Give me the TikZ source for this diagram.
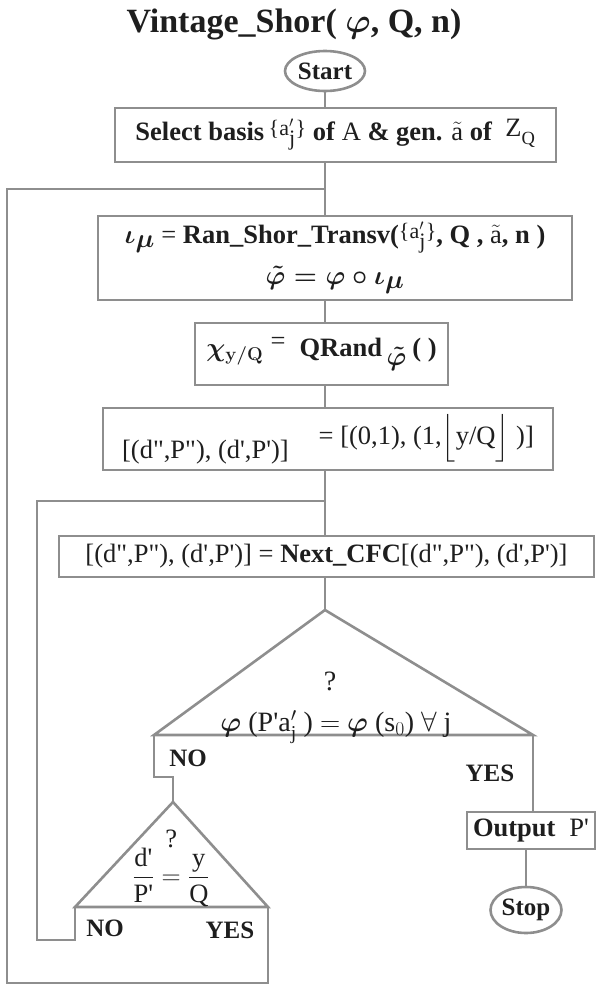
\RequirePackage{fix-cm}
\documentclass[tikz,border=0pt]{standalone}
\usepackage{amsmath,amssymb}
\usepackage{bm}
\usepackage{fontspec}
\setmainfont{Liberation Serif}[Ligatures=TeXOff]
\usetikzlibrary{positioning,shapes.geometric}
\definecolor{lgray}{HTML}{8E8E8E}
\definecolor{ink}{HTML}{1E1E1E}
\newcommand{\aj}{{\fontsize{22}{22}\selectfont\raisebox{5pt}{\{a$'_{\raisebox{-4pt}{$\mathrm{j}$}}$\}}}}

\begin{document}
\begin{tikzpicture}[x=1pt,y=-1pt,line width=2.6pt,line join=miter,
  font=\fontsize{26.5}{31}\selectfont,
  bx/.style={draw=lgray,text=ink,align=center,inner sep=2pt},
  ov/.style={draw=lgray,text=ink,ellipse,inner sep=0pt,font=\fontsize{25}{30}\selectfont\bfseries},
  lbl/.style={text=ink,font=\fontsize{25}{30}\selectfont\bfseries},
  wire/.style={draw=lgray}]
  \useasboundingbox (0,0) rectangle (595,986);
  \coordinate (spine) at (325,0);
  \node[text=ink,font=\fontsize{34}{40}\selectfont\bfseries](title) at (294,24)
    {Vintage\_Shor( {\boldmath$\varphi$}, Q, n)};
  \node[ov,minimum width=80pt,minimum height=40pt](start) at (325,71){Start};
  \node[bx,minimum width=441pt,minimum height=54pt](select) at (335.5,135)
    {\textbf{Select basis}\,\aj\ \textbf{of} A \textbf{\& gen.} $\tilde{\mathrm{a}}$ \textbf{of} \ \raisebox{4pt}{Z}$_{\mathrm{Q}}$};
  \node[bx,minimum width=474pt,minimum height=84pt](transv) at (335,258)
    {{\boldmath$\iota_{\textstyle\mu}$} = \textbf{Ran\_Shor\_Transv(}\aj\textbf{, Q , $\tilde{\mathrm{a}}$, n )}\\[10pt]
     {\boldmath$\tilde{\varphi}=\varphi\circ\iota_{\textstyle\mu}$}};
  \node[bx,minimum width=253pt,minimum height=62pt](qrand) at (321.5,354)
    {{\boldmath$\chi_{\mathbf{y/Q}}$}\;\raisebox{7pt}{=}\; \textbf{QRand}\,\raisebox{-9pt}{\boldmath$\tilde{\varphi}$}\hspace{6pt}\textbf{( )}};
  \node[bx,minimum width=450pt,minimum height=62pt](init) at (328,439)
    {\raisebox{-8pt}{[(d",P"), (d',P')]}\hspace{30pt}\raisebox{6pt}{= [(0,1), (1,$\Bigl\lfloor$y/Q$\Bigr\rfloor$ )]}};
  \node[bx,minimum width=535pt,minimum height=41pt](cfc) at (326.5,556.5)
    {[(d",P"), (d',P')] = \textbf{Next\_CFC}[(d",P"), (d',P')]};
  % decision triangles
  \coordinate (tA) at (325,610);
  \coordinate (tL) at (154,735);
  \coordinate (tR) at (533,735);
  \coordinate (sA) at (173,802);
  \coordinate (sL) at (75,907);
  \coordinate (sR) at (268,907);
  \draw[wire] (tA) -- (tL) -- (tR) -- cycle;
  \draw[wire] (sA) -- (sL) -- (sR) -- cycle;
  \node[text=ink,font=\fontsize{28}{32}\selectfont](test) at (336,706)
    {{\boldmath$\varphi$} (P'a$'_{\mathrm{j}}$ ) $\overset{\raisebox{26pt}{?}}{=}$ {\boldmath$\varphi$} (s$_{0}$) $\forall$ j};
  \node[text=ink](ratio) at (171,867)
    {$\dfrac{\text{d'}}{\text{P'}}\overset{\raisebox{22pt}{?}}{=}\dfrac{\text{y}}{\text{Q}}$};
  \node[bx,minimum width=128pt,minimum height=37pt](out) at (531,830.5){\textbf{Output} \;P'};
  \node[ov,minimum width=71pt,minimum height=46pt](stop) at (526,910){Stop};
  \node[lbl](no1) at (188,758){NO};
  \node[lbl](yes1) at (490,773){YES};
  \node[lbl](no2) at (105,928){NO};
  \node[lbl](yes2) at (230,930){YES};
  % connectors
  \coordinate (j1) at (325,189);
  \coordinate (j2) at (325,501);
  \draw[wire] (start) -- (start |- select.north);
  \draw[wire] (select.south -| spine) -- (transv.north -| spine);
  \draw[wire] (transv.south -| spine) -- (qrand.north -| spine);
  \draw[wire] (qrand.south -| spine) -- (init.north -| spine);
  \draw[wire] (init.south -| spine) -- (cfc.north -| spine);
  \draw[wire] (cfc.south -| spine) -- (tA);
  \draw[wire] (tL) -- ++(0,42) -| (sA);
  \draw[wire] (tR) -- (tR |- out.north);
  \draw[wire] (stop.north |- out.south) -- (stop.north);
  \draw[wire] (sR) -- (268,983) -- (7,983) |- (j1);
  \draw[wire] (sL) -- (75,940) -- (37,940) |- (j2);
\end{tikzpicture}
\end{document}
